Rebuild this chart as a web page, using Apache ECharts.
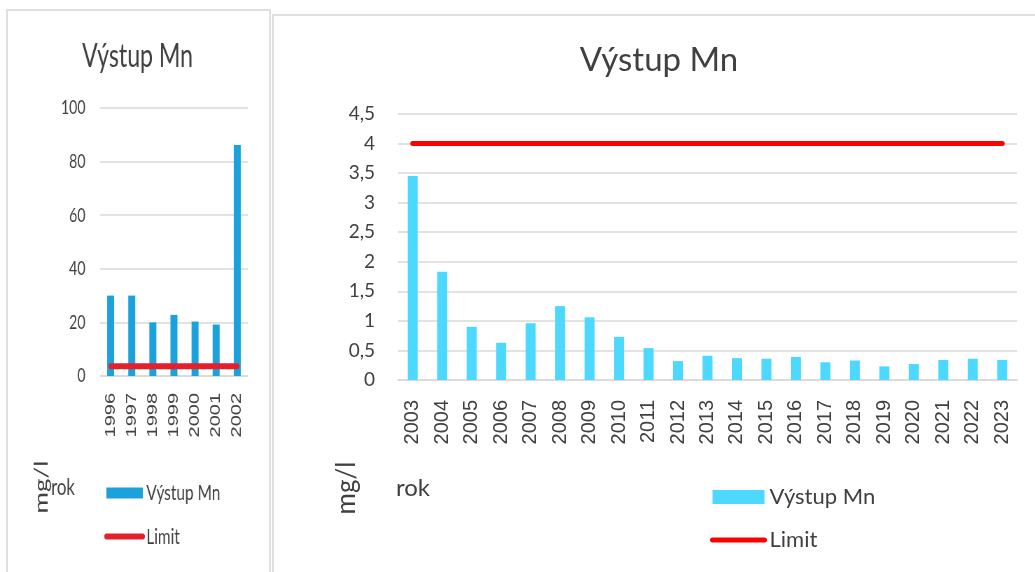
<!DOCTYPE html>
<html>
<head>
<meta charset="utf-8">
<script src="https://cdn.jsdelivr.net/npm/echarts@6/dist/echarts.min.js"></script>
<style>
  html, body { margin: 0; padding: 0; background: #fff; width: 1035px; height: 572px; overflow: hidden; position: relative; }
  .frame { position: absolute; border: 2px solid #e0e0e0; box-sizing: border-box; }
  #leftFrame { left: 6px; top: 9px; width: 265px; height: 620px; }
  #rightFrame { left: 272px; top: 14px; width: 800px; height: 620px; }
  /* the small chart is a horizontally squeezed copy, like in the source picture */
  #left { position: absolute; left: 0; top: 0; width: 393px; height: 572px; transform: scaleX(0.7); transform-origin: 0 0; }
  #right { position: absolute; left: 273px; top: 0; width: 772px; height: 572px; }
</style>
</head>
<body>
<div id="leftFrame" class="frame"></div>
<div id="rightFrame" class="frame"></div>
<div id="left"></div>
<div id="right"></div>
<script>
// data
const leftYears = ['1996', '1997', '1998', '1999', '2000', '2001', '2002'];
const leftValues = [30, 30, 20, 22.8, 20.3, 19.2, 86.2];
const leftLimit = 3.6;
const leftAxis = { min: 0, max: 100, interval: 20 };

const rightYears = ['2003', '2004', '2005', '2006', '2007', '2008', '2009', '2010', '2011', '2012', '2013',
  '2014', '2015', '2016', '2017', '2018', '2019', '2020', '2021', '2022', '2023'];
const rightValues = [3.45, 1.83, 0.9, 0.63, 0.96, 1.25, 1.06, 0.73, 0.54, 0.32, 0.41,
  0.37, 0.36, 0.39, 0.3, 0.33, 0.23, 0.27, 0.34, 0.36, 0.34];
const rightLimit = 4;
const rightAxis = { min: 0, max: 4.5, interval: 0.5 };

const seriesName = 'Výstup Mn';
const limitName = 'Limit';
const TXT = '#404040';
const GRID = '#d9d9d9';
const CAL = 'Lato, "Open Sans", sans-serif';
const ARIAL = '"Liberation Sans", Arial, sans-serif';

const comma = (v) => String(v).replace('.', ',');

const buildOption = (p) => ({
  animation: false,
  title: {
    text: seriesName,
    left: 'center',
    top: p.titleTop,
    textStyle: { fontFamily: CAL, fontSize: 33, fontWeight: 'normal', color: TXT }
  },
  grid: { left: p.gridLeft, right: p.gridRight, top: p.gridTop, bottom: p.gridBottom, outerBoundsMode: 'none' },
  legend: {
    orient: 'vertical',
    left: p.legendLeft,
    top: p.legendTop,
    itemWidth: 52,
    itemHeight: p.legendItemH,
    itemGap: p.legendGap,
    textStyle: { fontFamily: CAL, fontSize: 22, color: TXT, lineHeight: 22 },
    data: [
      { name: seriesName, icon: 'rect' },
      // plain thick line, no marker in the middle
      { name: limitName, lineStyle: { width: p.limitWidth, cap: 'round' }, itemStyle: { opacity: 0 } }
    ]
  },
  xAxis: {
    type: 'category',
    data: p.years,
    axisTick: { show: false },
    axisLine: { lineStyle: { color: GRID, width: 1.5 } },
    axisLabel: { rotate: 90, interval: 0, margin: p.xMargin, fontFamily: ARIAL, fontSize: 20, color: TXT }
  },
  yAxis: {
    type: 'value',
    min: p.axis.min,
    max: p.axis.max,
    interval: p.axis.interval,
    axisLine: { show: false },
    axisTick: { show: false },
    splitLine: { lineStyle: { color: GRID, width: 1.5 } },
    axisLabel: { margin: p.labelMargin, fontFamily: CAL, fontSize: p.yFont, color: TXT, formatter: comma }
  },
  graphic: [
    {
      type: 'text', x: p.unitX, y: p.unitY, rotation: Math.PI / 2,
      style: { text: 'mg/l', font: '26px ' + CAL, fill: TXT, align: 'center', verticalAlign: 'middle' }
    },
    {
      type: 'text', x: p.rokX, y: p.unitY,
      style: { text: 'rok', font: '24px ' + CAL, fill: TXT, align: 'left', verticalAlign: 'middle' }
    }
  ],
  series: [
    {
      name: seriesName,
      type: 'bar',
      data: p.values,
      barWidth: p.barWidth,
      itemStyle: { color: p.barColor }
    },
    {
      name: limitName,
      type: 'line',
      data: p.years.map(() => p.limit),
      symbol: 'none',
      itemStyle: { color: p.limitColor },
      lineStyle: { color: p.limitColor, width: p.limitWidth, cap: 'round' }
    }
  ]
});

const leftChart = echarts.init(document.getElementById('left'));
leftChart.setOption(buildOption({
  years: leftYears, values: leftValues, limit: leftLimit, axis: leftAxis,
  titleTop: 35, gridLeft: 143, gridRight: 39, gridTop: 108, gridBottom: 572 - 376,
  labelMargin: 21, yFont: 20, xMargin: 17,
  legendLeft: 144, legendTop: 477, legendItemH: 11, legendGap: 21.5,
  unitX: 60, unitY: 487, rokX: 73,
  barWidth: 10, barColor: '#1ba1dc', limitColor: '#e5202a', limitWidth: 6
}));

const rightChart = echarts.init(document.getElementById('right'));
rightChart.setOption(buildOption({
  years: rightYears, values: rightValues, limit: rightLimit, axis: rightAxis,
  titleTop: 39, gridLeft: 125, gridRight: 28, gridTop: 114, gridBottom: 572 - 380,
  labelMargin: 23, yFont: 19, xMargin: 20,
  legendLeft: 432, legendTop: 481, legendItemH: 14, legendGap: 21,
  unitX: 74, unitY: 488, rokX: 123,
  barWidth: 10, barColor: '#4dd9ff', limitColor: '#ff0000', limitWidth: 5
}));
</script>
</body>
</html>
